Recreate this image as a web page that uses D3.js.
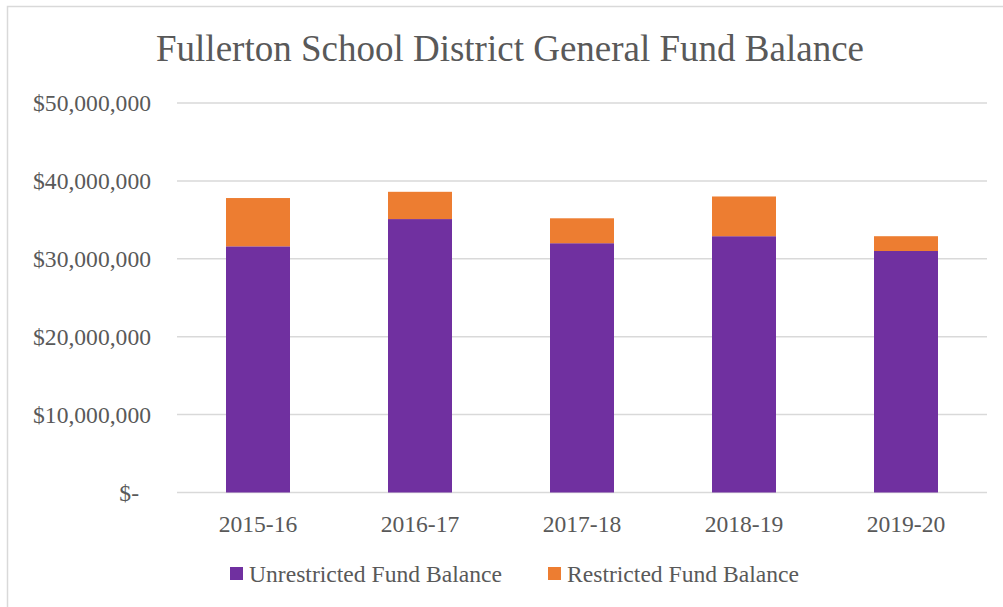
<!DOCTYPE html>
<html>
<head>
<meta charset="utf-8">
<script src="https://cdn.jsdelivr.net/npm/d3@7"></script>
<style>
  body { margin: 0; background: #fff; }
  text { font-family: "Liberation Serif", "Times New Roman", serif; fill: #595959; }
</style>
</head>
<body>
<script>
// data
const years = ["2015-16", "2016-17", "2017-18", "2018-19", "2019-20"];
const unrestricted = [31600000, 35100000, 32000000, 32900000, 31000000];
const restricted = [6200000, 3500000, 3200000, 5100000, 1900000];
const yTicks = [0, 10000000, 20000000, 30000000, 40000000, 50000000];
const seriesNames = ["Unrestricted Fund Balance", "Restricted Fund Balance"];
const colors = ["#7030A0", "#ED7D31"];

const W = 1003, H = 607;
const svg = d3.select("body").append("svg")
  .attr("width", W)
  .attr("height", H);

// chart border
svg.append("rect")
  .attr("x", 7.5).attr("y", 6.5)
  .attr("width", W + 20).attr("height", H + 20)
  .attr("fill", "#fff")
  .attr("stroke", "#d9d9d9")
  .attr("stroke-width", 1.5);

const plot = { left: 177, right: 987, top: 103, bottom: 492.5 };

const x = d3.scaleBand()
  .domain(years)
  .range([plot.left, plot.right])
  .paddingInner(0.605)
  .paddingOuter(0.3025);

const y = d3.scaleLinear()
  .domain([0, 50000000])
  .range([plot.bottom, plot.top]);

// gridlines
svg.append("g")
  .selectAll("line")
  .data(yTicks)
  .join("line")
  .attr("x1", plot.left).attr("x2", plot.right)
  .attr("y1", d => y(d)).attr("y2", d => y(d))
  .attr("stroke", "#d9d9d9")
  .attr("stroke-width", 1.5);

// y labels ($- sits a little left, like Excel's accounting format)
const fmt = d => "$" + d3.format(",")(d);
svg.append("g")
  .selectAll("text")
  .data(yTicks)
  .join("text")
  .attr("x", d => d === 0 ? 139 : 151)
  .attr("y", d => y(d))
  .attr("dy", "0.35em")
  .attr("text-anchor", "end")
  .attr("font-size", 23.6)
  .text(d => d === 0 ? "$-" : fmt(d));

// stacked bars
const rows = years.map((yr, i) => ({ year: yr, u: unrestricted[i], r: restricted[i] }));
const stack = d3.stack().keys(["u", "r"])(rows);

svg.append("g")
  .selectAll("g")
  .data(stack)
  .join("g")
  .attr("fill", (d, i) => colors[i])
  .selectAll("rect")
  .data(d => d)
  .join("rect")
  .attr("x", d => x(d.data.year))
  .attr("width", x.bandwidth())
  .attr("y", d => y(d[1]))
  .attr("height", d => y(d[0]) - y(d[1]));

// x labels
svg.append("g")
  .selectAll("text")
  .data(years)
  .join("text")
  .attr("x", d => x(d) + x.bandwidth() / 2)
  .attr("y", 532)
  .attr("text-anchor", "middle")
  .attr("font-size", 23.6)
  .text(d => d);

// title
svg.append("text")
  .attr("x", 510)
  .attr("y", 61)
  .attr("text-anchor", "middle")
  .attr("font-size", 37)
  .text("Fullerton School District General Fund Balance");

// legend
const legendX = [230, 548];
const legend = svg.append("g")
  .selectAll("g")
  .data(seriesNames)
  .join("g")
  .attr("transform", (d, i) => `translate(${legendX[i]},0)`);

legend.append("rect")
  .attr("x", 0).attr("y", 567)
  .attr("width", 13).attr("height", 13)
  .attr("fill", (d, i) => colors[i]);

legend.append("text")
  .attr("x", 19)
  .attr("y", 582)
  .attr("font-size", 23.6)
  .text(d => d);
</script>
</body>
</html>
